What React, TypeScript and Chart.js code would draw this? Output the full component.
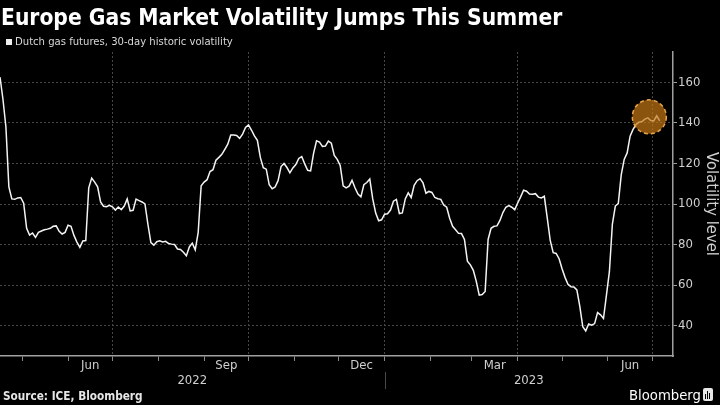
import React, { useEffect, useRef } from "react";
import { Chart, registerables } from "chart.js";

Chart.register(...registerables);

const TITLE = "Europe Gas Market Volatility Jumps This Summer";
const LEGEND_LABEL = "Dutch gas futures, 30-day historic volatility";
const SOURCE = "Source: ICE, Bloomberg";
const BRAND = "Bloomberg";
const Y_TITLE = "Volatility level";

// Series: Dutch gas futures 30-day historic volatility, sampled every 2 days from START_DATE
const START_DATE = "2022-04-16";
const STEP_DAYS = 2;
const AXIS_END_DATE = "2023-07-15";
const volatility = [
  162.6, 151.7, 138, 108.4, 102.5, 102.3, 103, 103.2, 100.4, 88,
  84.7, 85.7, 83.5, 86, 86.7, 87.3, 87.6, 88, 89, 89.2,
  86.5, 85.2, 86, 89.5, 89, 84.5, 81.2, 78.6, 81.8, 82,
  108, 112.8, 110.8, 108.5, 101, 98.9, 98.7, 99.3, 98.6, 97,
  98.5, 97.2, 99, 102.5, 96.6, 96.9, 102.4, 101.7, 101, 100,
  90, 81, 79.7, 81.4, 81.8, 81.3, 81.6, 80.5, 80.2, 80,
  77.8, 77.6, 76.2, 74.5, 78.8, 80.7, 77.4, 86, 109, 110.8,
  112, 116, 116.9, 121.6, 123, 124.5, 127, 129.5, 134, 134,
  133.8, 132.4, 134.5, 137.8, 139, 136.5, 133.6, 131.4, 123, 117.9,
  117.2, 109.5, 107.5, 108.4, 111.5, 118.5, 120, 118, 115.4, 117.8,
  119.5, 122.5, 123.4, 119.8, 116.6, 116.3, 125, 131.2, 130.5, 128.4,
  128.6, 131, 130, 124, 122, 119, 109, 108, 108.8, 111.7,
  108, 104.9, 103.5, 109.5, 110.6, 112.3, 102.5, 95.5, 91.7, 92.2,
  95, 95.2, 97, 101.4, 102.3, 95.3, 95.6, 102.5, 105.5, 103.2,
  109.2, 111.5, 112.5, 110.4, 105.3, 106.2, 105.7, 103.2, 102.6, 102.3,
  99.5, 98.4, 93, 89, 87.3, 85.5, 85.4, 82.5, 71.8, 70,
  67.3, 61.8, 55, 55.3, 56.8, 82.5, 88, 89, 89.2, 91.9,
  95.8, 98.4, 99.2, 98.4, 97.2, 100.5, 103.5, 106.8, 106.3, 104.9,
  104.8, 105.1, 103.4, 103, 103.8, 93, 82, 76, 75.6, 73,
  68.1, 63.8, 60.4, 59.2, 59.1, 57.6, 49.5, 39.5, 37.4, 40.8,
  40.2, 41, 46.4, 45.3, 43.5, 55, 66.6, 90, 99, 100.2,
  114.4, 122, 125.2, 133.5, 136.8, 139.2, 140.4, 140.7, 141.9, 142.5,
  141.2, 141, 143.5, 141,
];

const yTicks = [40, 60, 80, 100, 120, 140, 160];
const Y_MIN = 25;
const Y_MAX = 175;

const labeledMonths = ["2022-06", "2022-09", "2022-12", "2023-03", "2023-06"];
const monthNames = ["Jun", "Sep", "Dec", "Mar", "Jun"];
const yearLabels = ["2022", "2023"];
const yearStarts = ["2022-01-01", "2023-01-01"];

const HIGHLIGHT_DATE = "2023-06-29";
const HIGHLIGHT_VALUE = 143;

const FONT =
  '"Liberation Sans Narrow", "DejaVu Sans Condensed", "Roboto Condensed", "Liberation Sans", Arial, sans-serif';

const DAY = 86400000;
const startMs = Date.parse(START_DATE + "T00:00:00Z");
const dayOf = (s: string) => (Date.parse(s + "T00:00:00Z") - startMs) / DAY;

function monthStartDays(): number[] {
  const out: number[] = [];
  const end = dayOf(AXIS_END_DATE);
  const d = new Date(startMs);
  let y = d.getUTCFullYear();
  let m = d.getUTCMonth() + 1;
  while (true) {
    if (m > 11) { m = 0; y++; }
    const v = (Date.UTC(y, m, 1) - startMs) / DAY;
    if (v > end) break;
    out.push(v);
    m++;
  }
  return out;
}

function isQuarterStart(v: number | undefined): boolean {
  if (v === undefined) return false;
  const d = new Date(startMs + v * DAY);
  return d.getUTCDate() === 1 && d.getUTCMonth() % 3 === 0;
}

function nextMonthStr(s: string): string {
  const [y, m] = s.split("-").map(Number);
  const ny = m === 12 ? y + 1 : y;
  const nm = m === 12 ? 1 : m + 1;
  return `${ny}-${String(nm).padStart(2, "0")}-01`;
}

const overlayPlugin = {
  id: "overlay",
  afterDatasetsDraw(chart: any) {
    const { ctx, scales } = chart;
    const x = scales.x;
    const y = scales.y;
    const cx = x.getPixelForValue(dayOf(HIGHLIGHT_DATE));
    const cy = y.getPixelForValue(HIGHLIGHT_VALUE);
    ctx.save();
    ctx.beginPath();
    ctx.arc(cx, cy, 17, 0, Math.PI * 2);
    ctx.fillStyle = "rgba(196,120,22,0.7)";
    ctx.fill();
    ctx.setLineDash([4, 3]);
    ctx.lineWidth = 1.5;
    ctx.strokeStyle = "#e8a54a";
    ctx.stroke();
    ctx.restore();
  },
  afterDraw(chart: any) {
    const { ctx, scales, chartArea } = chart;
    const x = scales.x;
    const bottom = chartArea.bottom;
    ctx.save();
    ctx.fillStyle = "#cfcfcf";
    ctx.font = `13px ${FONT}`;
    ctx.textAlign = "center";
    ctx.textBaseline = "middle";
    labeledMonths.forEach((m, i) => {
      const d0 = dayOf(m + "-01");
      const d1 = dayOf(nextMonthStr(m + "-01"));
      ctx.fillText(monthNames[i], x.getPixelForValue((d0 + d1) / 2), bottom + 10);
    });
    yearLabels.forEach((yl, i) => {
      const a = Math.max(x.min, dayOf(yearStarts[i]));
      const nextStart = i + 1 < yearStarts.length ? dayOf(yearStarts[i + 1]) : x.max;
      const b = Math.min(x.max, nextStart);
      ctx.fillText(yl, (x.getPixelForValue(a) + x.getPixelForValue(b)) / 2, bottom + 25);
    });
    ctx.strokeStyle = "#4a4a4a";
    ctx.lineWidth = 1;
    const dx = Math.round(x.getPixelForValue(dayOf(yearStarts[1]))) + 0.5;
    ctx.beginPath();
    ctx.moveTo(dx, bottom + 16);
    ctx.lineTo(dx, bottom + 33);
    ctx.stroke();
    ctx.font = `16.5px ${FONT}`;
    ctx.fillStyle = "#d0d0d0";
    ctx.translate(chart.width - 9, (chartArea.top + chartArea.bottom) / 2);
    ctx.rotate(Math.PI / 2);
    ctx.fillText(Y_TITLE, 0, 0);
    ctx.restore();
  },
};

export default function App() {
  const ref = useRef<HTMLCanvasElement | null>(null);

  useEffect(() => {
    document.body.style.margin = "0";
    document.body.style.background = "#000";
    if (!ref.current) return;
    const monthTicks = monthStartDays();
    const chart = new Chart(ref.current, {
      type: "line",
      data: {
        datasets: [
          {
            label: LEGEND_LABEL,
            data: volatility.map((v, i) => ({ x: i * STEP_DAYS, y: v })),
            borderColor: "#f4f4f4",
            borderWidth: 1.5,
            pointRadius: 0,
            tension: 0,
            fill: false,
          },
        ],
      },
      options: {
        animation: false,
        responsive: false,
        maintainAspectRatio: false,
        layout: { padding: { top: 52, left: 0, right: 0, bottom: 0 } },
        plugins: {
          legend: { display: false },
          tooltip: { enabled: false },
          title: { display: false },
        },
        scales: {
          x: {
            type: "linear",
            min: 0,
            max: dayOf(AXIS_END_DATE),
            afterBuildTicks: (s: any) => {
              s.ticks = monthTicks.map((v) => ({ value: v }));
            },
            afterFit: (s: any) => {
              s.height = 49;
            },
            ticks: { display: false },
            grid: {
              color: (c: any) => (isQuarterStart(c.tick?.value) ? "#474747" : "rgba(0,0,0,0)"),
              lineWidth: 1,
              tickColor: "#8a8a8a",
              tickLength: 5,
              drawTicks: true,
            },
            border: { display: true, color: "#a0a0a0", width: 1.5, dash: [2, 2] },
          },
          y: {
            position: "right",
            min: Y_MIN,
            max: Y_MAX,
            afterBuildTicks: (s: any) => {
              s.ticks = yTicks.map((v) => ({ value: v }));
            },
            afterFit: (s: any) => {
              s.width = 47;
            },
            ticks: { color: "#cfcfcf", font: { family: FONT, size: 13 }, padding: 1 },
            grid: { color: "#474747", tickColor: "#a0a0a0", tickLength: 4 },
            border: { display: true, color: "#a0a0a0", width: 1.5, dash: [2, 2] },
          },
        },
      },
      plugins: [overlayPlugin],
    } as any);
    return () => chart.destroy();
  }, []);

  return (
    <div style={{ position: "relative", width: 720, height: 405, background: "#000", overflow: "hidden", fontFamily: FONT }}>
      <canvas ref={ref} width={720} height={405} style={{ position: "absolute", left: 0, top: 0, width: 720, height: 405 }} />
      <div style={{ position: "absolute", left: 1, top: 4, color: "#fff", fontWeight: "bold", fontSize: 22.6, lineHeight: "26px", whiteSpace: "nowrap" }}>
        {TITLE}
      </div>
      <div style={{ position: "absolute", left: 6, top: 39, width: 6, height: 6, background: "#eee" }} />
      <div style={{ position: "absolute", left: 15, top: 34, color: "#d8d8d8", fontSize: 11.2, lineHeight: "16px", whiteSpace: "nowrap" }}>
        {LEGEND_LABEL}
      </div>
      <div style={{ position: "absolute", left: 3, top: 388, color: "#e6e6e6", fontWeight: "bold", fontSize: 11.7, lineHeight: "16px", whiteSpace: "nowrap" }}>
        {SOURCE}
      </div>
      <div style={{ position: "absolute", left: 629, top: 386, color: "#fff", fontSize: 14.7, lineHeight: "18px", whiteSpace: "nowrap" }}>
        {BRAND}
      </div>
      <div style={{ position: "absolute", left: 703, top: 388, width: 10, height: 13, background: "#e8e8e8", borderRadius: 2 }}>
        <div style={{ position: "absolute", left: 2, top: 6, width: 1, height: 5, background: "#000" }} />
        <div style={{ position: "absolute", left: 4, top: 3, width: 1, height: 8, background: "#000" }} />
        <div style={{ position: "absolute", left: 6, top: 5, width: 1, height: 6, background: "#000" }} />
      </div>
    </div>
  );
}
